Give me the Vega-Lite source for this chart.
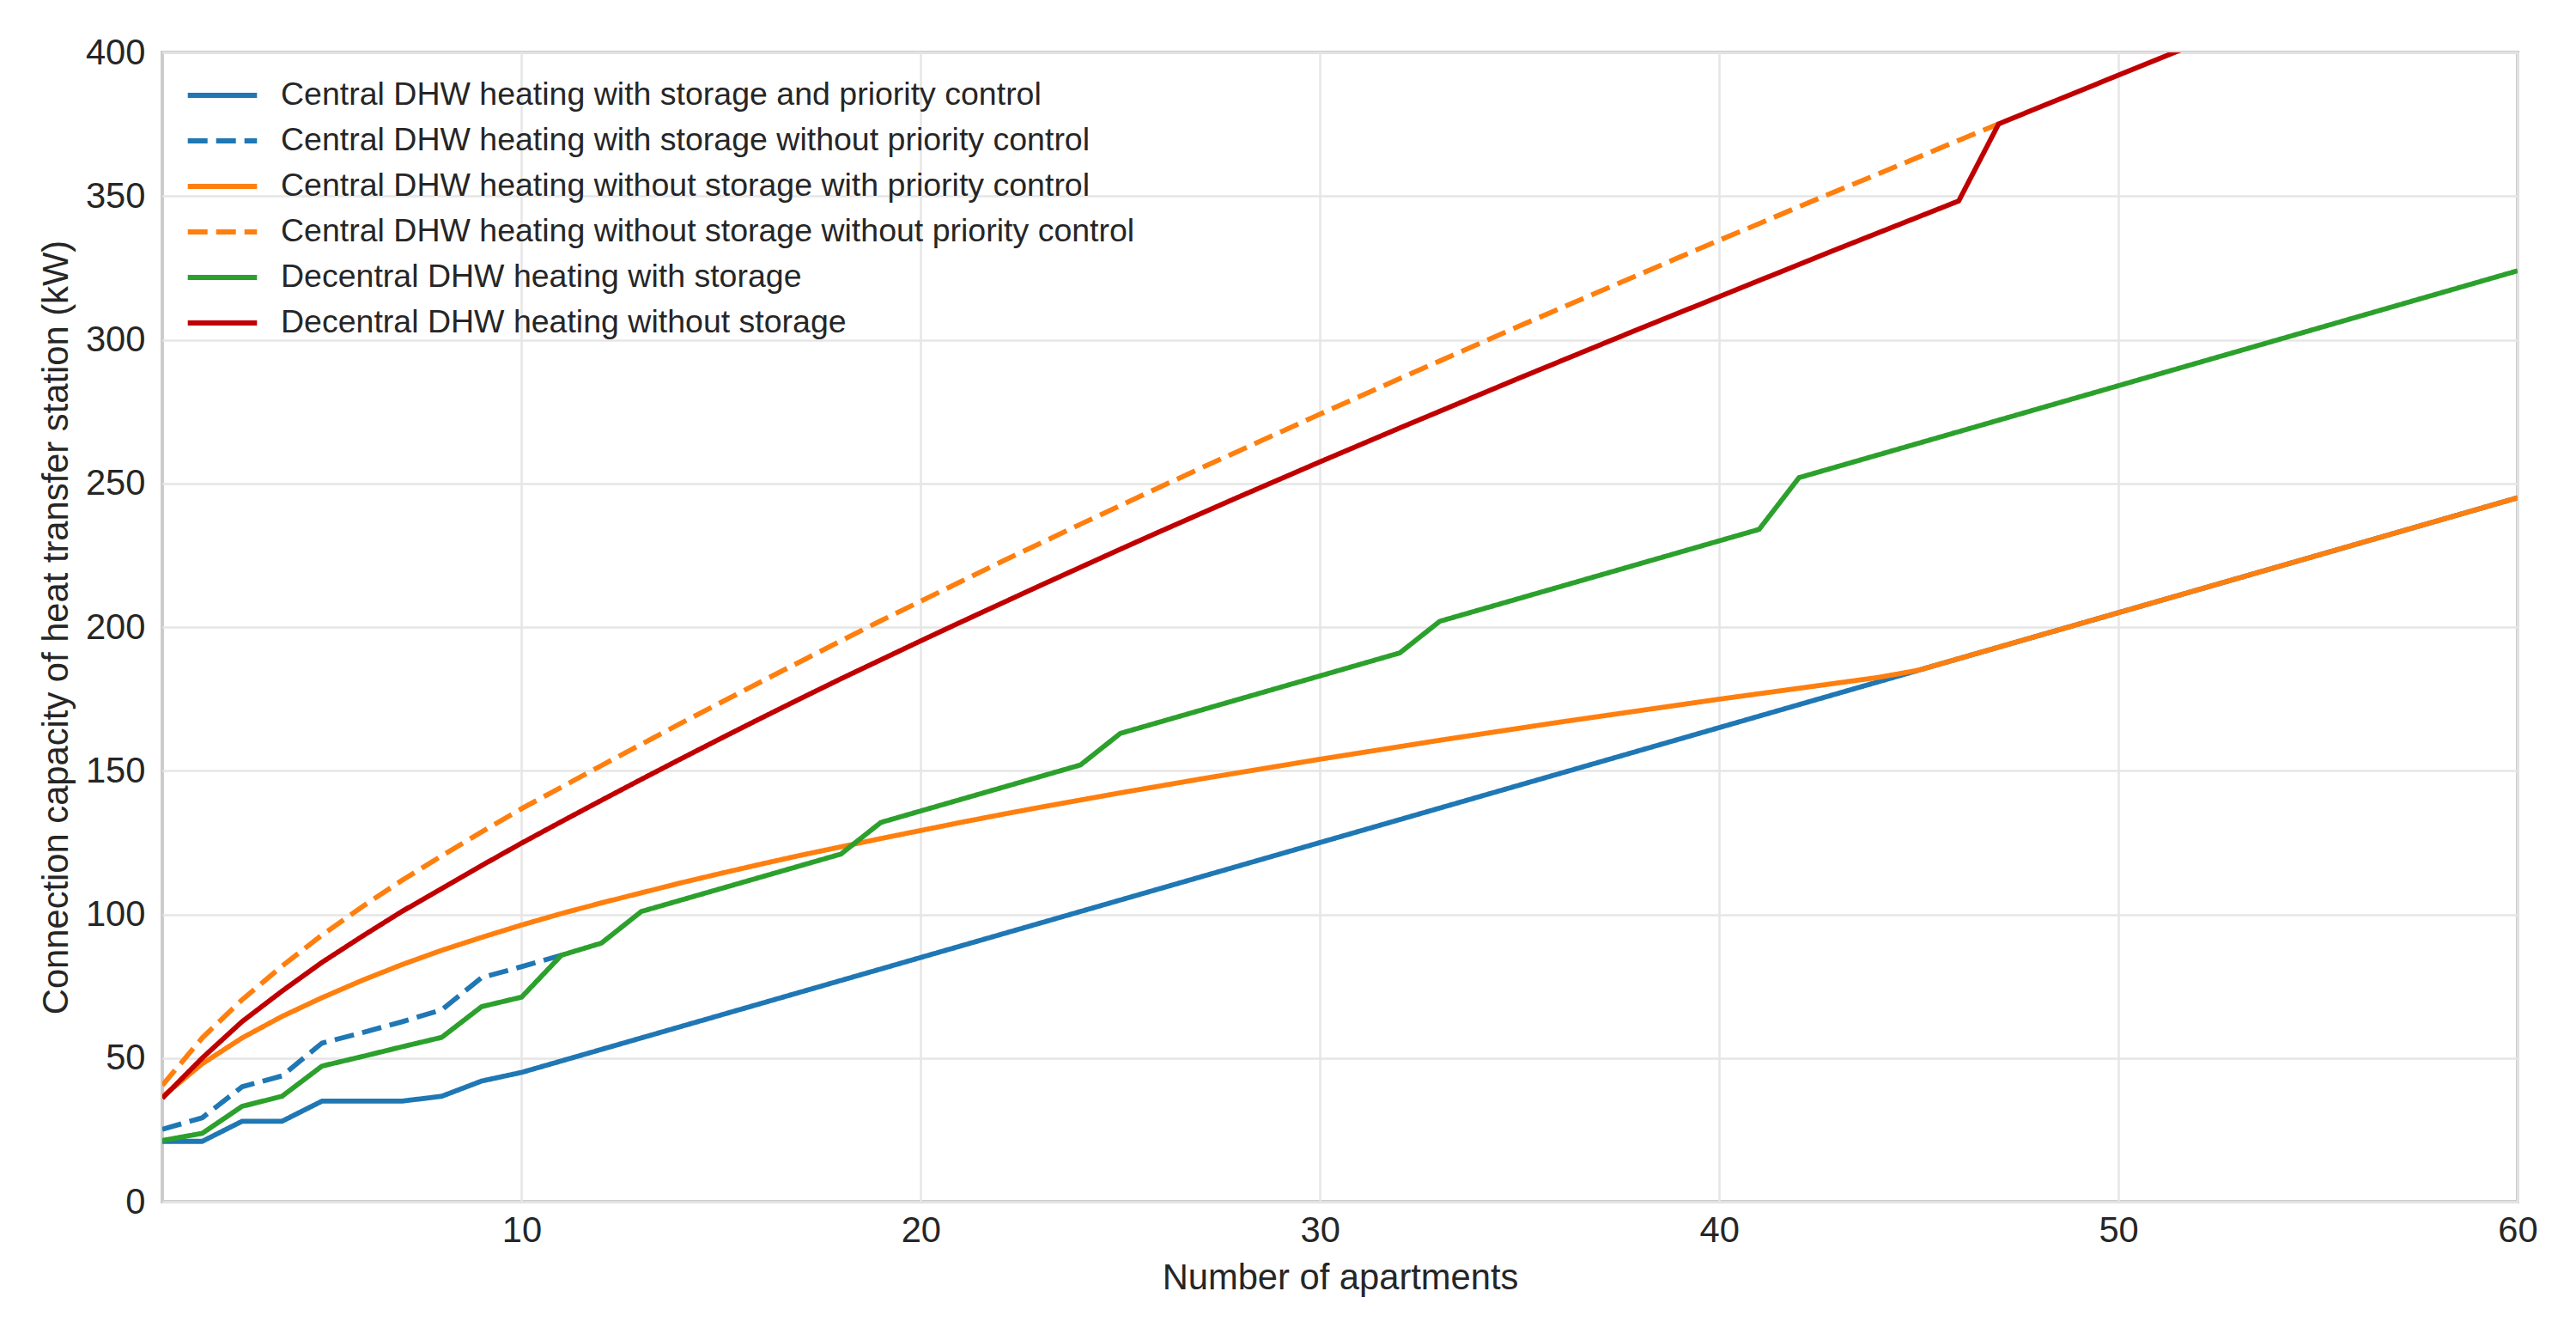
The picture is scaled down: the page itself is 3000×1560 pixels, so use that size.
{
  "$schema": "https://vega.github.io/schema/vega-lite/v6.json",
  "description": "Connection capacity of heat transfer station vs number of apartments",
  "width": 2743,
  "height": 1338,
  "autosize": {"type": "none"},
  "padding": {"left": 189, "top": 61, "right": 68, "bottom": 161},
  "background": "white",
  "data": {
    "values": [
      {"n": 1, "s1": 21, "s2": 25.2, "s3": 36.5, "s4": 40.5, "s5": 21.3, "s6": 36},
      {"n": 2, "s1": 21, "s2": 29.2, "s3": 48, "s4": 57, "s5": 23.8, "s6": 50},
      {"n": 3, "s1": 28, "s2": 40, "s3": 57, "s4": 70.3, "s5": 33.2, "s6": 62.7},
      {"n": 4, "s1": 28, "s2": 43.8, "s3": 64.5, "s4": 82, "s5": 36.7, "s6": 73.3},
      {"n": 5, "s1": 35, "s2": 55.2, "s3": 71, "s4": 92.8, "s5": 47.2, "s6": 83.3},
      {"n": 6, "s1": 35, "s2": 58.8, "s3": 77, "s4": 102.6, "s5": 50.5, "s6": 92.3},
      {"n": 7, "s1": 35, "s2": 62.6, "s3": 82.5, "s4": 111.8, "s5": 53.9, "s6": 101},
      {"n": 8, "s1": 36.7, "s2": 66.8, "s3": 87.5, "s4": 120.4, "s5": 57.2, "s6": 109},
      {"n": 9, "s1": 42, "s2": 78, "s3": 92, "s4": 128.7, "s5": 67.9, "s6": 117},
      {"n": 10, "s1": 45, "s2": 81.8, "s3": 96.3, "s4": 136.8, "s5": 71.2, "s6": 124.8},
      {"n": 11, "s1": 49, "s2": 85.8, "s3": 100.3, "s4": 144.3, "s5": 85.8, "s6": 132.3},
      {"n": 12, "s1": 53, "s2": null, "s3": 104, "s4": 151.8, "s5": 90, "s6": 139.7},
      {"n": 13, "s1": 57, "s2": null, "s3": 107.5, "s4": 159.2, "s5": 101, "s6": 147},
      {"n": 14, "s1": 61, "s2": null, "s3": 111, "s4": 166.6, "s5": 105, "s6": 154.2},
      {"n": 15, "s1": 65, "s2": null, "s3": 114.3, "s4": 173.8, "s5": 109, "s6": 161.3},
      {"n": 16, "s1": 69, "s2": null, "s3": 117.5, "s4": 181, "s5": 113, "s6": 168.3},
      {"n": 17, "s1": 73, "s2": null, "s3": 120.6, "s4": 188.1, "s5": 117, "s6": 175.2},
      {"n": 18, "s1": 77, "s2": null, "s3": 123.5, "s4": 195.2, "s5": 121, "s6": 182},
      {"n": 19, "s1": 81, "s2": null, "s3": 126.4, "s4": 202.2, "s5": 132, "s6": 188.6},
      {"n": 20, "s1": 85, "s2": null, "s3": 129.2, "s4": 209, "s5": 136, "s6": 195.2},
      {"n": 21, "s1": 89, "s2": null, "s3": 132, "s4": 215.8, "s5": 140, "s6": 201.7},
      {"n": 22, "s1": 93, "s2": null, "s3": 134.7, "s4": 222.6, "s5": 144, "s6": 208.1},
      {"n": 23, "s1": 97, "s2": null, "s3": 137.3, "s4": 229.2, "s5": 148, "s6": 214.5},
      {"n": 24, "s1": 101, "s2": null, "s3": 139.8, "s4": 235.8, "s5": 152, "s6": 220.8},
      {"n": 25, "s1": 105, "s2": null, "s3": 142.3, "s4": 242.3, "s5": 163, "s6": 227.1},
      {"n": 26, "s1": 109, "s2": null, "s3": 144.7, "s4": 248.8, "s5": 167, "s6": 233.3},
      {"n": 27, "s1": 113, "s2": null, "s3": 147.1, "s4": 255.2, "s5": 171, "s6": 239.4},
      {"n": 28, "s1": 117, "s2": null, "s3": 149.4, "s4": 261.5, "s5": 175, "s6": 245.5},
      {"n": 29, "s1": 121, "s2": null, "s3": 151.7, "s4": 267.8, "s5": 179, "s6": 251.5},
      {"n": 30, "s1": 125, "s2": null, "s3": 154, "s4": 274.1, "s5": 183, "s6": 257.5},
      {"n": 31, "s1": 129, "s2": null, "s3": 156.2, "s4": 280.3, "s5": 187, "s6": 263.4},
      {"n": 32, "s1": 133, "s2": null, "s3": 158.4, "s4": 286.5, "s5": 191, "s6": 269.3},
      {"n": 33, "s1": 137, "s2": null, "s3": 160.6, "s4": 292.6, "s5": 202, "s6": 275.1},
      {"n": 34, "s1": 141, "s2": null, "s3": 162.7, "s4": 298.7, "s5": 206, "s6": 280.9},
      {"n": 35, "s1": 145, "s2": null, "s3": 164.8, "s4": 304.8, "s5": 210, "s6": 286.7},
      {"n": 36, "s1": 149, "s2": null, "s3": 166.9, "s4": 310.8, "s5": 214, "s6": 292.4},
      {"n": 37, "s1": 153, "s2": null, "s3": 168.9, "s4": 316.8, "s5": 218, "s6": 298.1},
      {"n": 38, "s1": 157, "s2": null, "s3": 170.9, "s4": 322.7, "s5": 222, "s6": 303.8},
      {"n": 39, "s1": 161, "s2": null, "s3": 172.9, "s4": 328.7, "s5": 226, "s6": 309.4},
      {"n": 40, "s1": 165, "s2": null, "s3": 174.9, "s4": 334.6, "s5": 230, "s6": 315},
      {"n": 41, "s1": 169, "s2": null, "s3": 176.8, "s4": 340.4, "s5": 234, "s6": 320.6},
      {"n": 42, "s1": 173, "s2": null, "s3": 178.7, "s4": 346.3, "s5": 252, "s6": 326.2},
      {"n": 43, "s1": 177, "s2": null, "s3": 180.6, "s4": 352.1, "s5": 256, "s6": 331.8},
      {"n": 44, "s1": 181, "s2": null, "s3": 182.5, "s4": 357.8, "s5": 260, "s6": 337.3},
      {"n": 45, "s1": 185, "s2": null, "s3": 185, "s4": 363.6, "s5": 264, "s6": 342.8},
      {"n": 46, "s1": 189, "s2": null, "s3": 189, "s4": 369.4, "s5": 268, "s6": 348.3},
      {"n": 47, "s1": 193, "s2": null, "s3": 193, "s4": 375.1, "s5": 272, "s6": 375.1},
      {"n": 48, "s1": 197, "s2": null, "s3": 197, "s4": null, "s5": 276, "s6": 380.8},
      {"n": 49, "s1": 201, "s2": null, "s3": 201, "s4": null, "s5": 280, "s6": 386.4},
      {"n": 50, "s1": 205, "s2": null, "s3": 205, "s4": null, "s5": 284, "s6": 392.1},
      {"n": 51, "s1": 209, "s2": null, "s3": 209, "s4": null, "s5": 288, "s6": 397.7},
      {"n": 52, "s1": 213, "s2": null, "s3": 213, "s4": null, "s5": 292, "s6": 403.3},
      {"n": 53, "s1": 217, "s2": null, "s3": 217, "s4": null, "s5": 296, "s6": 408.9},
      {"n": 54, "s1": 221, "s2": null, "s3": 221, "s4": null, "s5": 300, "s6": 414.5},
      {"n": 55, "s1": 225, "s2": null, "s3": 225, "s4": null, "s5": 304, "s6": 420},
      {"n": 56, "s1": 229, "s2": null, "s3": 229, "s4": null, "s5": 308, "s6": 425.5},
      {"n": 57, "s1": 233, "s2": null, "s3": 233, "s4": null, "s5": 312, "s6": 431.1},
      {"n": 58, "s1": 237, "s2": null, "s3": 237, "s4": null, "s5": 316, "s6": 436.6},
      {"n": 59, "s1": 241, "s2": null, "s3": 241, "s4": null, "s5": 320, "s6": 442.1},
      {"n": 60, "s1": 245, "s2": null, "s3": 245, "s4": null, "s5": 324, "s6": 447.5}
    ]
  },
  "transform": [
    {"fold": ["s1", "s2", "s3", "s4", "s5", "s6"], "as": ["series", "kw"]},
    {"filter": "isValid(datum.kw)"}
  ],
  "mark": {"type": "line", "clip": true, "strokeWidth": 5.8, "strokeCap": "butt"},
  "encoding": {
    "x": {
      "field": "n",
      "type": "quantitative",
      "title": "Number of apartments",
      "scale": {"domain": [1, 60], "nice": false, "zero": false},
      "axis": {"values": [10, 20, 30, 40, 50, 60], "labelFlush": false, "labelPadding": 13, "titleY": 101, "titleBaseline": "alphabetic"}
    },
    "y": {
      "field": "kw",
      "type": "quantitative",
      "title": "Connection capacity of heat transfer station (kW)",
      "scale": {"domain": [0, 400], "nice": false},
      "axis": {"values": [0, 50, 100, 150, 200, 250, 300, 350, 400], "labelFlush": false, "labelPadding": 20, "titleX": -111, "titleY": 669, "titleBaseline": "alphabetic"}
    },
    "color": {
      "field": "series",
      "type": "nominal",
      "scale": {
        "domain": ["s1", "s2", "s3", "s4", "s5", "s6"],
        "range": ["#1f77b4", "#1f77b4", "#ff7f0e", "#ff7f0e", "#2ca02c", "#c00000"]
      },
      "legend": {
        "labelExpr": "{'s1': 'Central DHW heating with storage and priority control', 's2': 'Central DHW heating with storage without priority control', 's3': 'Central DHW heating without storage with priority control', 's4': 'Central DHW heating without storage without priority control', 's5': 'Decentral DHW heating with storage', 's6': 'Decentral DHW heating without storage'}[datum.value]"
      }
    },
    "strokeDash": {
      "field": "series",
      "type": "nominal",
      "scale": {
        "domain": ["s1", "s2", "s3", "s4", "s5", "s6"],
        "range": [[1, 0], [23, 10], [1, 0], [23, 10], [1, 0], [1, 0]]
      },
      "legend": {
        "labelExpr": "{'s1': 'Central DHW heating with storage and priority control', 's2': 'Central DHW heating with storage without priority control', 's3': 'Central DHW heating without storage with priority control', 's4': 'Central DHW heating without storage without priority control', 's5': 'Decentral DHW heating with storage', 's6': 'Decentral DHW heating without storage'}[datum.value]"
      }
    }
  },
  "config": {
    "font": "Liberation Sans",
    "view": {"stroke": "#cccccc", "strokeWidth": 4},
    "axis": {
      "domain": false,
      "ticks": false,
      "grid": true,
      "gridColor": "#e6e6e6",
      "gridWidth": 2.5,
      "gridOpacity": 1,
      "labelFont": "Liberation Sans",
      "labelFontSize": 41.7,
      "labelColor": "#262626",
      "titleFont": "Liberation Sans",
      "titleFontSize": 41.7,
      "titleFontWeight": "normal",
      "titleColor": "#262626"
    },
    "legend": {
      "orient": "none",
      "legendX": 36,
      "legendY": 16,
      "title": null,
      "padding": 0,
      "offset": 0,
      "labelFont": "Liberation Sans",
      "labelFontSize": 37.5,
      "labelColor": "#262626",
      "labelLimit": 3000,
      "labelOffset": 34,
      "symbolType": "M-1.3,0H1.3",
      "symbolSize": 3844,
      "symbolStrokeWidth": 5.8,
      "rowPadding": 0
    }
  }
}
